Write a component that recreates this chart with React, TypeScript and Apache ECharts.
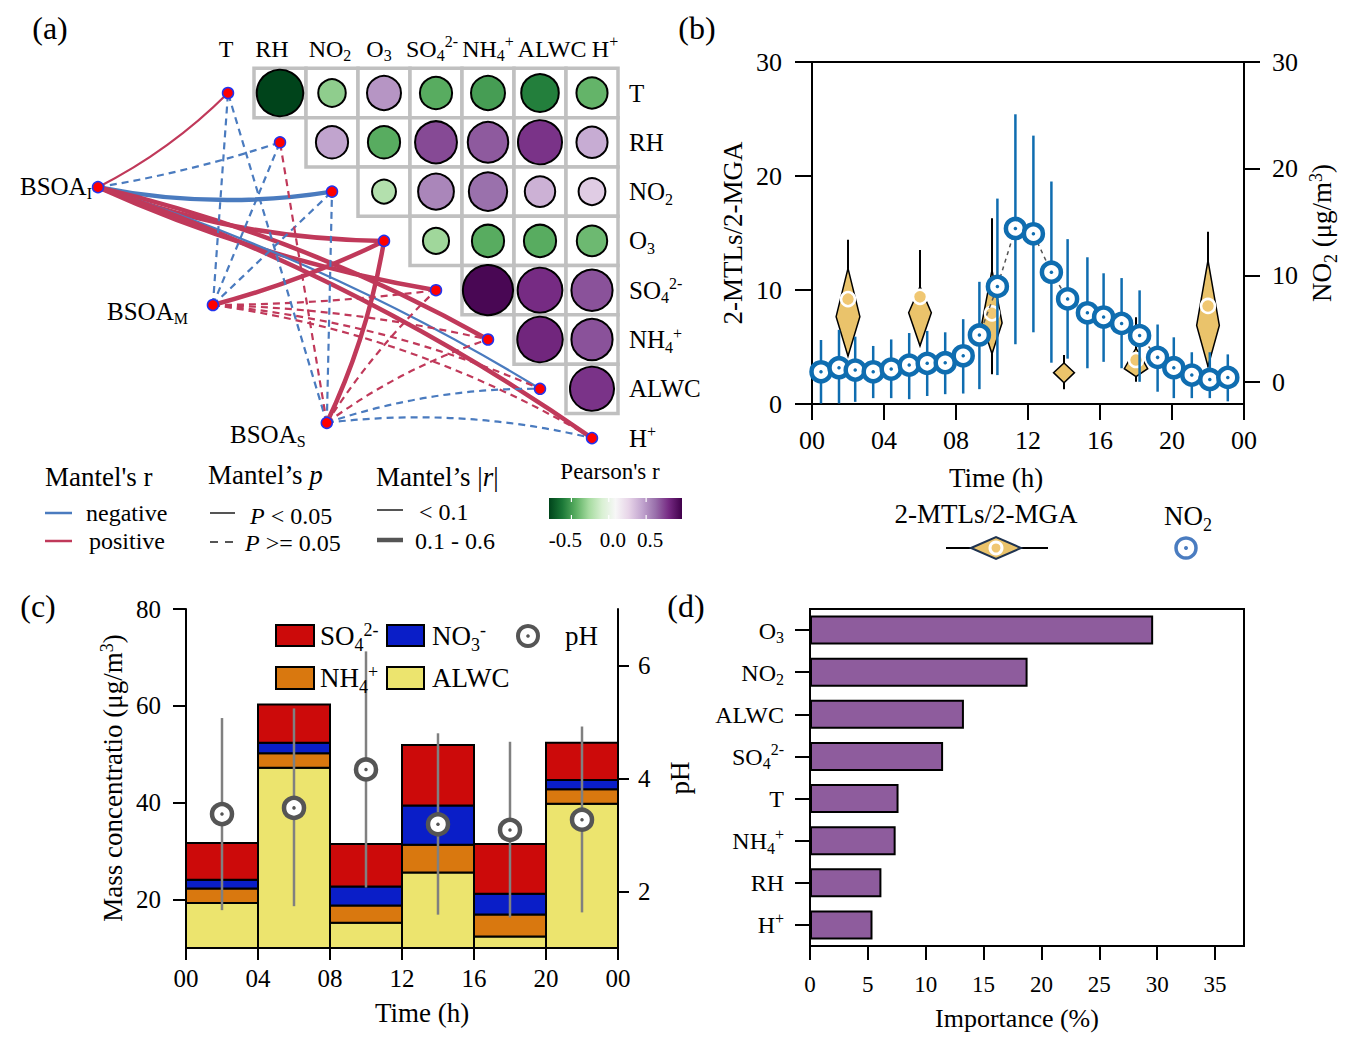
import React, { useEffect, useRef } from 'react';
import * as echarts from 'echarts';

const FONT = '"Liberation Serif", "Times New Roman", Times, serif';
const W = 1352;
const H = 1045;

// ---------------- Panel (a) data ----------------
const envVars = ['T', 'RH', 'NO2', 'O3', 'SO4', 'NH4', 'ALWC', 'H+'];
const envLabels = ['{n|T}', '{n|RH}', '{n|NO}{b|2}', '{n|O}{b|3}', '{n|SO}{b|4}{p|2-}', '{n|NH}{b|4}{p|+}', '{n|ALWC}', '{n|H}{p|+}'];
// upper triangle of Pearson r (row i vs columns i+1..7)
const pearsonT = [-0.85, -0.32, 0.5, -0.45, -0.5, -0.6, -0.42];
const pearsonRH = [0.45, -0.45, 0.72, 0.68, 0.78, 0.42];
const pearsonNO2 = [-0.22, 0.55, 0.62, 0.4, 0.3];
const pearsonO3 = [-0.28, -0.45, -0.45, -0.4];
const pearsonSO4 = [0.95, 0.8, 0.7];
const pearsonNH4 = [0.82, 0.7];
const pearsonALWC = [0.78];
const pearsonRows = [pearsonT, pearsonRH, pearsonNO2, pearsonO3, pearsonSO4, pearsonNH4, pearsonALWC];
const pearsonScale = [-0.8, 0.98];
const pearsonTicks = [-0.5, 0, 0.5];
const pearsonTickLabels = ['-0.5', '0.0', '0.5'];

const bsoaLabels = ['{n|BSOA}{b|I}', '{n|BSOA}{b|M}', '{n|BSOA}{b|S}'];
// Mantel r sign (+1 positive / -1 negative) for env vars T..H+
const mantelSignI = [1, -1, -1, 1, 1, 1, -1, 1];
const mantelSignM = [-1, -1, -1, 1, 1, 1, 1, 1];
const mantelSignS = [-1, 1, -1, 1, 1, 1, -1, -1];
// p < 0.05 ?
const mantelSigI = [1, 0, 1, 1, 1, 1, 1, 1];
const mantelSigM = [0, 0, 0, 1, 0, 0, 0, 0];
const mantelSigS = [0, 0, 0, 1, 0, 0, 0, 0];
// |r| in 0.1-0.6 ?
const mantelStrongI = [0, 0, 1, 1, 1, 1, 0, 1];
const mantelStrongM = [0, 0, 0, 1, 0, 0, 0, 0];
const mantelStrongS = [0, 0, 0, 1, 0, 0, 0, 0];
const mantelSign = [mantelSignI, mantelSignM, mantelSignS];
const mantelSig = [mantelSigI, mantelSigM, mantelSigS];
const mantelStrong = [mantelStrongI, mantelStrongM, mantelStrongS];

// ---------------- Panel (b) data ----------------
const timeTickLabels = ['00', '04', '08', '12', '16', '20', '00'];
const no2Hour = [0.5, 1.5, 2.4, 3.4, 4.4, 5.4, 6.4, 7.4, 8.4, 9.3, 10.3, 11.3, 12.3, 13.3, 14.2, 15.3, 16.2, 17.2, 18.2, 19.2, 20.1, 21.1, 22.1, 23.1];
const no2Mean = [0.97, 1.35, 1.13, 0.97, 1.22, 1.6, 1.76, 1.82, 2.47, 4.42, 8.97, 14.4, 13.9, 10.3, 7.8, 6.5, 6.1, 5.5, 4.36, 2.32, 1.35, 0.66, 0.25, 0.44];
const no2Low = [-2, -2, -1.85, -1.5, -1.5, -1.6, -1.3, -1.13, -1.07, -0.66, 0.66, 3.55, 4.67, 1.82, 2.2, 1.3, 1.9, 1.3, 0.03, -0.9, -1.5, -1.5, -1.5, -1.8];
const no2High = [3.95, 4.9, 4.26, 3.39, 4.0, 4.6, 4.8, 4.67, 5.9, 9.4, 17.2, 25.1, 23.1, 18.8, 13.4, 11.7, 10.2, 9.75, 8.6, 5.4, 4.2, 2.8, 2.8, 2.6];

const ratioHour = [2, 6, 10, 14, 18, 22];
const ratioWhiskerLow = [4.2, 5.1, 2.6, 1.3, 1.95, 3.3];
const ratioWhiskerHigh = [14.4, 13.5, 16.3, 4.3, 7.6, 15.1];
const ratioBoxLow = [4.2, 5.1, 4.4, 1.87, 2.4, 3.3];
const ratioMode = [7.66, 8.0, 7.1, 2.75, 3.1, 6.9];
const ratioBoxHigh = [11.9, 10.3, 11.75, 3.6, 4.9, 12.6];
const ratioHalfWidth = [0.66, 0.63, 0.56, 0.58, 0.65, 0.63];
const ratioMean: (number | null)[] = [9.2, 9.4, 7.95, null, 3.86, 8.6];

// ---------------- Panel (c) data ----------------
const periodStart = [0, 4, 8, 12, 16, 20];
const periodEnd = [4, 8, 12, 16, 20, 24];
const alwcConc = [19.3, 47.2, 15.2, 25.6, 12.4, 39.8];
const nh4Conc = [3.0, 3.0, 3.6, 5.7, 4.5, 3.0];
const no3Conc = [1.8, 2.2, 3.9, 8.1, 4.3, 1.9];
const so4Conc = [7.6, 7.9, 8.8, 12.5, 10.3, 7.7];
const phHour = [2, 6, 10, 14, 18, 22];
const phMean = [3.37, 3.48, 4.16, 3.19, 3.09, 3.27];
const phLow = [1.67, 1.74, 2.07, 1.59, 1.54, 1.63];
const phHigh = [5.07, 5.24, 6.25, 4.8, 4.65, 4.92];

// ---------------- Panel (d) data ----------------
const impVars = ['O3', 'NO2', 'ALWC', 'SO4', 'T', 'NH4', 'RH', 'H+'];
const impValues = [29.65, 18.8, 13.3, 11.5, 7.65, 7.4, 6.17, 5.4];

// ---------------- styles / layout ----------------
const PRGN = ['#00441b', '#1b7837', '#5aae61', '#a6dba0', '#d9f0d3', '#f7f7f7', '#e7d4e8', '#c2a5cf', '#9970ab', '#762a83', '#40004b'];
const RED_EDGE = '#c0395a';
const BLUE_EDGE = '#4a7bbf';
const NO2_BLUE = '#0f6db0';
const VIOLIN = '#eac36b';
const STACK_COLORS = ['#ece46e', '#d9780f', '#0a1ec8', '#cc0a0a'];
const PH_GRAY = '#555555';
const IMP_PURPLE = '#8e5c9d';

const A_X0 = 228, A_Y0 = 93, A_UX = 52, A_UY = 49.3;
const A_XMIN = -4.3, A_XMAX = 8, A_YMIN = -1, A_YMAX = 8;
const bsoaLayout = [[-2.5, 1.91], [-0.29, 4.3], [1.9, 6.69]];
const edgeCurve = [
  [-0.08, -0.04, -0.09, -0.09, -0.065, 0.07, 0.06, 0.07],
  [0, 0, 0, -0.05, -0.03, 0.05, 0.08, 0.1],
  [0, 0, 0, -0.07, 0.06, 0.08, 0.085, 0.09],
];
const C_YMIN = 10;

function richE(F: number) {
  const lh = Math.round(F * 1.3);
  const base: any = { fontFamily: FONT, color: '#000', verticalAlign: 'top', lineHeight: lh };
  return {
    n: { ...base, fontSize: F, padding: [Math.round(F * 0.15), 0, 0, 0] },
    i: { ...base, fontSize: F, fontStyle: 'italic', padding: [Math.round(F * 0.15), 0, 0, 0] },
    b: { ...base, fontSize: Math.round(F * 0.65), padding: [Math.round(F * 0.64), 0, 0, 0] },
    p: { ...base, fontSize: Math.round(F * 0.65), padding: [Math.round(F * 0.06), 0, 0, 0] },
  };
}
function richZ(F: number) {
  const r: any = richE(F);
  Object.keys(r).forEach((k) => { r[k].fill = '#000'; delete r[k].color; });
  return r;
}
function gt(x: number, y: number, text: string, F: number, align = 'left', rotation = 0) {
  return {
    type: 'text', x, y, rotation, silent: true, z: 50,
    style: {
      text, rich: richZ(F), fill: '#000', fontSize: F, fontFamily: FONT,
      align, textAlign: align, verticalAlign: 'middle', textVerticalAlign: 'middle',
    },
  };
}
function gline(x1: number, y1: number, x2: number, y2: number, stroke: string, lineWidth: number, lineDash?: number[]) {
  return { type: 'line', silent: true, z: 50, shape: { x1, y1, x2, y2 }, style: { stroke, lineWidth, lineDash } };
}
const labelOf = (v: string) => envLabels[envVars.indexOf(v)];
const tickFmt = (v: number) => timeTickLabels[Math.round(v / 4)];

function buildOption() {
  // ---- panel (a) series data
  const cellData: number[][] = [];
  pearsonRows.forEach((row, i) => row.forEach((r, k) => cellData.push([i + 1 + k, i, r])));
  const edgeData: any[] = [];
  bsoaLayout.forEach((b, g) => envVars.forEach((_, v) => {
    edgeData.push({
      coords: [[b[0], b[1]], [v, v]],
      lineStyle: {
        color: mantelSign[g][v] > 0 ? RED_EDGE : BLUE_EDGE,
        width: mantelStrong[g][v] ? 4.5 : 2.2,
        type: mantelSig[g][v] ? 'solid' : [7, 5],
        curveness: edgeCurve[g][v],
        opacity: 1,
      },
    });
  }));
  const nodeData = envVars.map((_, i) => [i, i]).concat(bsoaLayout.map((b) => [b[0], b[1]]));

  const series: any[] = [];
  series.push({
    type: 'custom', xAxisIndex: 0, yAxisIndex: 0, silent: true, z: 1, data: cellData.map((d) => [d[0], d[1]]),
    renderItem: (params: any, api: any) => {
      const c = api.coord([api.value(0), api.value(1)]);
      const s = api.size([1, 1]);
      return { type: 'rect', shape: { x: c[0] - s[0] / 2, y: c[1] - s[1] / 2, width: s[0], height: s[1] }, style: { fill: '#fff', stroke: '#c0c0c0', lineWidth: 3.5 } };
    },
  });
  series.push({
    type: 'lines', coordinateSystem: 'cartesian2d', xAxisIndex: 0, yAxisIndex: 0, silent: true, z: 2,
    polyline: false, data: edgeData,
  });
  const circleSeriesIndex = series.length;
  series.push({
    type: 'scatter', xAxisIndex: 0, yAxisIndex: 0, silent: true, z: 3, data: cellData,
    symbolSize: (val: number[]) => 16 + 36 * Math.abs(val[2]),
    itemStyle: { borderColor: '#000', borderWidth: 2, opacity: 1 },
  });
  series.push({
    type: 'scatter', xAxisIndex: 0, yAxisIndex: 0, silent: true, z: 4, data: nodeData, symbolSize: 11,
    itemStyle: { color: '#ff0000', borderColor: '#2233ee', borderWidth: 1.5, opacity: 1 },
  });

  // ---- panel (b)
  series.push({
    type: 'custom', xAxisIndex: 1, yAxisIndex: 1, silent: true, z: 2,
    data: ratioHour.map((h, i) => [h, ratioWhiskerLow[i], ratioWhiskerHigh[i], ratioBoxLow[i], ratioMode[i], ratioBoxHigh[i], ratioHalfWidth[i]]),
    renderItem: (params: any, api: any) => {
      const x = api.value(0);
      const wl = api.coord([x, api.value(1)]);
      const wh = api.coord([x, api.value(2)]);
      const bl = api.coord([x, api.value(3)]);
      const md = api.coord([x, api.value(4)]);
      const bh = api.coord([x, api.value(5)]);
      const hw = api.size([api.value(6), 0])[0];
      const children: any[] = [
        { type: 'line', shape: { x1: wl[0], y1: wl[1], x2: wh[0], y2: wh[1] }, style: { stroke: '#000', lineWidth: 2 } },
        { type: 'polygon', shape: { points: [[bh[0], bh[1]], [md[0] + hw, md[1]], [bl[0], bl[1]], [md[0] - hw, md[1]]] }, style: { fill: VIOLIN, stroke: '#000', lineWidth: 1.5 } },
      ];
      const mean = ratioMean[params.dataIndex];
      if (mean != null) {
        const m = api.coord([x, mean]);
        children.push({ type: 'circle', shape: { cx: m[0], cy: m[1], r: 7 }, style: { fill: '#f0c772', stroke: '#fff', lineWidth: 2.5 } });
      }
      return { type: 'group', children };
    },
  });
  series.push({
    type: 'custom', xAxisIndex: 1, yAxisIndex: 2, silent: true, z: 3,
    data: no2Hour.map((h, i) => [h, no2Low[i], no2High[i]]),
    renderItem: (params: any, api: any) => {
      const a = api.coord([api.value(0), api.value(1)]);
      const b = api.coord([api.value(0), api.value(2)]);
      return { type: 'line', shape: { x1: a[0], y1: a[1], x2: b[0], y2: b[1] }, style: { stroke: NO2_BLUE, lineWidth: 2.5 } };
    },
  });
  series.push({
    type: 'line', xAxisIndex: 1, yAxisIndex: 2, silent: true, z: 4,
    data: no2Hour.map((h, i) => [h, no2Mean[i]]),
    symbol: 'circle', symbolSize: 19, showSymbol: true,
    lineStyle: { color: '#555', width: 1.5, type: [4, 4] },
    itemStyle: { color: '#fff', borderColor: NO2_BLUE, borderWidth: 4.5, opacity: 1 },
  });
  series.push({
    type: 'scatter', xAxisIndex: 1, yAxisIndex: 2, silent: true, z: 5,
    data: no2Hour.map((h, i) => [h, no2Mean[i]]), symbolSize: 3.5, itemStyle: { color: NO2_BLUE, opacity: 1 },
  });

  // ---- panel (c)
  const stacks = [alwcConc, nh4Conc, no3Conc, so4Conc];
  stacks.forEach((vals, k) => {
    const color = STACK_COLORS[k];
    series.push({
      type: 'custom', xAxisIndex: 2, yAxisIndex: 3, silent: true, z: 2,
      data: vals.map((v, i) => {
        const base = stacks.slice(0, k).reduce((s, a) => s + a[i], 0);
        return [periodStart[i], periodEnd[i], base, base + v];
      }),
      renderItem: (params: any, api: any) => {
        const p0 = api.coord([api.value(0), Math.max(api.value(2), C_YMIN)]);
        const p1 = api.coord([api.value(1), api.value(3)]);
        return { type: 'rect', shape: { x: p0[0], y: p1[1], width: p1[0] - p0[0], height: p0[1] - p1[1] }, style: { fill: color, stroke: '#000', lineWidth: 2 } };
      },
    });
  });
  series.push({
    type: 'custom', xAxisIndex: 2, yAxisIndex: 4, silent: true, z: 3,
    data: phHour.map((h, i) => [h, phLow[i], phHigh[i]]),
    renderItem: (params: any, api: any) => {
      const a = api.coord([api.value(0), api.value(1)]);
      const b = api.coord([api.value(0), api.value(2)]);
      return { type: 'line', shape: { x1: a[0], y1: a[1], x2: b[0], y2: b[1] }, style: { stroke: '#808080', lineWidth: 2.5 } };
    },
  });
  series.push({
    type: 'scatter', xAxisIndex: 2, yAxisIndex: 4, silent: true, z: 4,
    data: phHour.map((h, i) => [h, phMean[i]]), symbolSize: 20,
    itemStyle: { color: '#fff', borderColor: PH_GRAY, borderWidth: 4.5, opacity: 1 },
  });
  series.push({
    type: 'scatter', xAxisIndex: 2, yAxisIndex: 4, silent: true, z: 5,
    data: phHour.map((h, i) => [h, phMean[i]]), symbolSize: 3.5, itemStyle: { color: PH_GRAY, opacity: 1 },
  });

  // ---- panel (d)
  series.push({
    type: 'bar', xAxisIndex: 3, yAxisIndex: 5, silent: true, data: impValues, barWidth: 29,
    itemStyle: { color: IMP_PURPLE, borderColor: '#000', borderWidth: 2 },
  });

  const axLine = { show: true, onZero: false, lineStyle: { color: '#000', width: 2 } };
  const tick = (length: number, extra: any = {}) => ({ show: true, inside: false, length, lineStyle: { color: '#000', width: 2 }, ...extra });
  const lbl = (fontSize: number, margin: number, extra: any = {}) => ({ color: '#000', fontFamily: FONT, fontSize, margin, ...extra });

  const xAxis: any[] = [
    { gridIndex: 0, type: 'value', min: A_XMIN, max: A_XMAX, show: false },
    { gridIndex: 1, type: 'value', min: 0, max: 24, interval: 4, axisLine: axLine, axisTick: tick(16), axisLabel: lbl(26, 23, { formatter: tickFmt }), splitLine: { show: false } },
    { gridIndex: 2, type: 'value', min: 0, max: 24, interval: 4, axisLine: axLine, axisTick: tick(12), axisLabel: lbl(25, 18, { formatter: tickFmt }), splitLine: { show: false } },
    { gridIndex: 3, type: 'value', min: 0, max: 37.5, axisLine: axLine,
      axisTick: tick(14, { customValues: [0, 5, 10, 15, 20, 25, 30, 35] }),
      axisLabel: lbl(23, 27, { customValues: [0, 5, 10, 15, 20, 25, 30, 35] }), splitLine: { show: false } },
  ];
  const yAxis: any[] = [
    { gridIndex: 0, type: 'value', min: A_YMIN, max: A_YMAX, inverse: true, show: false },
    { gridIndex: 1, type: 'value', position: 'left', min: 0, max: 30, interval: 10, axisLine: axLine, axisTick: tick(17), axisLabel: lbl(26, 30), splitLine: { show: false } },
    { gridIndex: 1, type: 'value', position: 'right', min: -2.05, max: 30, axisLine: axLine,
      axisTick: tick(16, { customValues: [0, 10, 20, 30] }), axisLabel: lbl(26, 28, { customValues: [0, 10, 20, 30] }), splitLine: { show: false } },
    { gridIndex: 2, type: 'value', position: 'left', min: C_YMIN, max: 80, axisLine: axLine,
      axisTick: tick(13, { customValues: [20, 40, 60, 80] }), axisLabel: lbl(25, 25, { customValues: [20, 40, 60, 80] }), splitLine: { show: false } },
    { gridIndex: 2, type: 'value', position: 'right', min: 1, max: 7, axisLine: axLine,
      axisTick: tick(11, { customValues: [2, 4, 6] }), axisLabel: lbl(25, 20, { customValues: [2, 4, 6] }), splitLine: { show: false } },
    { gridIndex: 3, type: 'category', data: impVars, inverse: true, axisLine: axLine,
      axisTick: tick(15, { alignWithLabel: true }), axisLabel: lbl(24, 26, { formatter: (v: string) => labelOf(v), rich: richE(24) }), splitLine: { show: false } },
  ];

  // ---- graphic texts & legends
  const g: any[] = [];
  g.push(gt(50, 28, '{n|(a)}', 32, 'center'));
  g.push(gt(697, 28, '{n|(b)}', 32, 'center'));
  g.push(gt(38, 606, '{n|(c)}', 32, 'center'));
  g.push(gt(686, 606, '{n|(d)}', 32, 'center'));

  // panel (a) labels
  const headerX = [226, 272, 330, 379, 432, 488, 552, 605];
  envLabels.forEach((l, i) => g.push(gt(headerX[i], 48, l, 24, 'center')));
  envLabels.forEach((l, i) => g.push(gt(629, A_Y0 + i * A_UY, l, 25, 'left')));
  g.push(gt(92, 186, bsoaLabels[0], 25, 'right'));
  g.push(gt(107, 311, bsoaLabels[1], 25, 'left'));
  g.push(gt(230, 434, bsoaLabels[2], 25, 'left'));

  // panel (a) legend
  g.push(gt(45, 477, "{n|Mantel's r}", 27));
  g.push(gline(45, 513, 72, 513, BLUE_EDGE, 2.5));
  g.push(gt(86, 512, '{n|negative}', 24));
  g.push(gline(45, 541, 72, 541, RED_EDGE, 2.5));
  g.push(gt(89, 540, '{n|positive}', 24));
  g.push(gt(208, 475, '{n|Mantel’s }{i|p}', 27));
  g.push(gline(210, 513, 235, 513, '#555', 2));
  g.push(gt(250, 515, '{i|P}{n| < 0.05}', 24));
  g.push(gline(210, 542, 235, 542, '#555', 2, [8, 7]));
  g.push(gt(245, 542, '{i|P}{n| >= 0.05}', 24));
  g.push(gt(376, 477, '{n|Mantel’s |}{i|r}{n||}', 27));
  g.push(gline(377, 510, 403, 510, '#555', 2));
  g.push(gt(419, 511, '{n|< 0.1}', 24));
  g.push(gline(377, 540, 403, 540, '#555', 4.5));
  g.push(gt(415, 540, '{n|0.1 - 0.6}', 24));
  g.push(gt(610, 472, "{n|Pearson's r}", 23, 'center'));
  const cbX = 549, cbY = 498, cbW = 133, cbH = 21;
  g.push({
    type: 'rect', silent: true, z: 50, shape: { x: cbX, y: cbY, width: cbW, height: cbH },
    style: { fill: { type: 'linear', x: 0, y: 0, x2: 1, y2: 0, colorStops: PRGN.map((c, i) => ({ offset: i / (PRGN.length - 1), color: c })) } },
  });
  pearsonTicks.forEach((t, i) => {
    const x = cbX + ((t - pearsonScale[0]) / (pearsonScale[1] - pearsonScale[0])) * cbW;
    g.push(gline(x, cbY, x, cbY + 4, '#fff', 1.2));
    g.push(gline(x, cbY + cbH - 4, x, cbY + cbH, '#fff', 1.2));
    const off = pearsonTickLabels[i].startsWith('-') ? -6 : 4;
    g.push(gt(x + off, 540, '{n|' + pearsonTickLabels[i] + '}', 21, 'center'));
  });

  // panel (b) titles & legend
  g.push(gt(733, 233, '{n|2-MTLs/2-MGA}', 27, 'center', Math.PI / 2));
  g.push(gt(1322, 233, '{n|NO}{b|2}{n| (μg/m}{p|3}{n|)}', 27, 'center', Math.PI / 2));
  g.push(gt(996, 478, '{n|Time (h)}', 27, 'center'));
  g.push(gt(986, 514, '{n|2-MTLs/2-MGA}', 27, 'center'));
  g.push(gline(946, 548, 1048, 548, '#000', 2));
  g.push({ type: 'polygon', silent: true, z: 51, shape: { points: [[971, 548], [996, 537], [1021, 548], [996, 559]] }, style: { fill: VIOLIN, stroke: '#1f3350', lineWidth: 2 } });
  g.push({ type: 'circle', silent: true, z: 52, shape: { cx: 996, cy: 548, r: 6 }, style: { fill: '#f0c772', stroke: '#fff', lineWidth: 3 } });
  g.push(gt(1188, 516, '{n|NO}{b|2}', 27, 'center'));
  g.push({ type: 'circle', silent: true, z: 51, shape: { cx: 1186, cy: 548, r: 10 }, style: { fill: '#fff', stroke: '#4a7cc0', lineWidth: 3.5 } });
  g.push({ type: 'circle', silent: true, z: 52, shape: { cx: 1186, cy: 548, r: 2 }, style: { fill: '#4a7cc0' } });

  // panel (c) titles & legend
  g.push(gt(113, 778, '{n|Mass concentratio (μg/m}{p|3}{n|)}', 27, 'center', Math.PI / 2));
  g.push(gt(680, 778, '{n|pH}', 27, 'center', Math.PI / 2));
  g.push(gt(422, 1013, '{n|Time (h)}', 27, 'center'));
  const legRect = (x: number, y: number, w: number, h: number, fill: string) => ({ type: 'rect', silent: true, z: 50, shape: { x, y, width: w, height: h }, style: { fill, stroke: '#000', lineWidth: 2 } });
  g.push(legRect(276, 625, 38, 21, STACK_COLORS[3]));
  g.push(gt(320, 636, '{n|SO}{b|4}{p|2-}', 27));
  g.push(legRect(387, 625, 37, 21, STACK_COLORS[2]));
  g.push(gt(432, 636, '{n|NO}{b|3}{p|-}', 27));
  g.push({ type: 'circle', silent: true, z: 50, shape: { cx: 528, cy: 636, r: 10 }, style: { fill: '#fff', stroke: PH_GRAY, lineWidth: 4 } });
  g.push({ type: 'circle', silent: true, z: 51, shape: { cx: 528, cy: 636, r: 1.8 }, style: { fill: PH_GRAY } });
  g.push(gt(565, 636, '{n|pH}', 27));
  g.push(legRect(276, 667, 38, 22, STACK_COLORS[1]));
  g.push(gt(320, 678, '{n|NH}{b|4}{p|+}', 27));
  g.push(legRect(387, 667, 37, 22, STACK_COLORS[0]));
  g.push(gt(432, 678, '{n|ALWC}', 27));

  // panel (d)
  g.push(gt(1017, 1018, '{n|Importance (%)}', 26, 'center'));

  return {
    animation: false,
    backgroundColor: '#fff',
    textStyle: { fontFamily: FONT },
    grid: [
      { left: A_X0 + A_XMIN * A_UX, top: A_Y0 + A_YMIN * A_UY, width: (A_XMAX - A_XMIN) * A_UX, height: (A_YMAX - A_YMIN) * A_UY },
      { left: 812, top: 62, width: 432, height: 342, show: true, borderColor: '#000', borderWidth: 2, backgroundColor: 'transparent' },
      { left: 186, top: 609, width: 432, height: 339 },
      { left: 810, top: 609, width: 434, height: 337, show: true, borderColor: '#000', borderWidth: 2, backgroundColor: 'transparent' },
    ],
    xAxis,
    yAxis,
    visualMap: [{
      type: 'continuous', show: false, seriesIndex: circleSeriesIndex, dimension: 2,
      min: pearsonScale[0], max: pearsonScale[1], inRange: { color: PRGN },
    }],
    series,
    graphic: { elements: g },
  };
}

export default function App() {
  const ref = useRef<HTMLDivElement>(null);
  useEffect(() => {
    if (!ref.current) return;
    const chart = echarts.init(ref.current, null, { renderer: 'svg', width: W, height: H });
    chart.setOption(buildOption() as any);
    return () => chart.dispose();
  }, []);
  return <div ref={ref} style={{ position: 'absolute', left: 0, top: 0, width: W, height: H, background: '#fff' }} />;
}
